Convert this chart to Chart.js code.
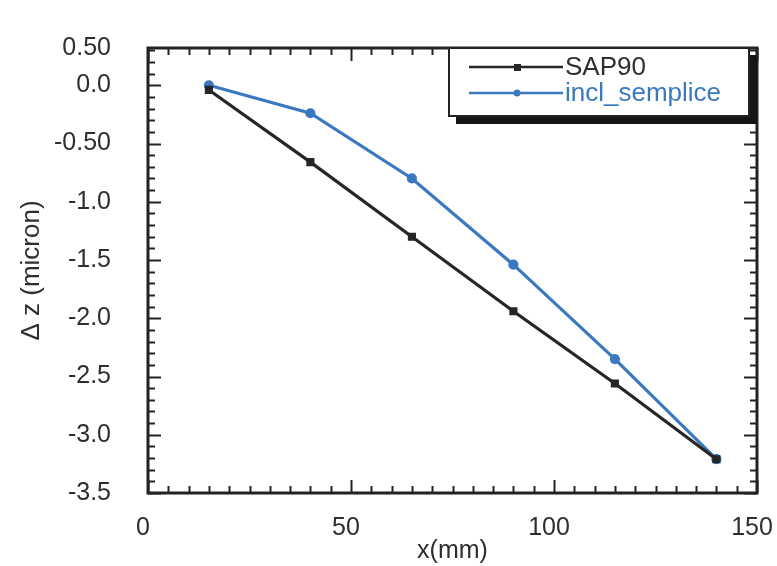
<!DOCTYPE html>
<html>
<head>
<meta charset="utf-8">
<script src="https://cdn.jsdelivr.net/npm/chart.js@4/dist/chart.umd.min.js"></script>
<style>
  html, body { margin: 0; padding: 0; background: #fff; }
  #wrap { width: 777px; height: 566px; }
</style>
</head>
<body>
<div id="wrap"><canvas id="chart" width="777" height="566"></canvas></div>
<script>
// data
const xPositions = [15, 40, 65, 90, 115, 140];
const sap90 = [-0.04, -0.66, -1.30, -1.94, -2.56, -3.21];
const inclSemplice = [0.0, -0.24, -0.80, -1.54, -2.35, -3.21];

// axis top sits a little above 0.3, the top tick carries the "0.50" label as in the original
const yMin = -3.5, yMax = 0.32;
const yTickValues = [yMax, 0, -0.5, -1, -1.5, -2, -2.5, -3, -3.5];
const yTickLabels = ['0.50', '0.0', '-0.50', '-1.0', '-1.5', '-2.0', '-2.5', '-3.0', '-3.5'];
const xTickValues = [0, 50, 100, 150];
const xTickLabels = ['0', '50', '100', '150'];

const FONT = 'Liberation Sans, Arial, Helvetica, sans-serif';
const TEXT = '#2e2e2e';
const BLACK = '#262626';
const BLUE = '#3a78c0';

// frame + inward ticks on all four sides, legend box
const framePlugin = {
    id: 'frame',
    afterDatasetsDraw(chart) {
        const { ctx, chartArea: a, scales } = chart;
        const xs = scales.x, ys = scales.y;
        ctx.save();
        ctx.strokeStyle = '#222';
        ctx.lineWidth = 2;
        ctx.beginPath();
        for (let v = 0; v <= 150; v += 5) {
            const px = Math.round(xs.getPixelForValue(v)) + 0.5;
            const len = v % 50 === 0 ? 13 : 7;
            ctx.moveTo(px, a.bottom); ctx.lineTo(px, a.bottom - len);
            ctx.moveTo(px, a.top); ctx.lineTo(px, a.top + len);
        }
        for (let i = 0; i <= 38; i++) {
            const v = -3.5 + i * 0.1;
            const py = Math.round(ys.getPixelForValue(v)) + 0.5;
            const len = i % 5 === 0 ? 13 : 7;
            ctx.moveTo(a.left, py); ctx.lineTo(a.left + len, py);
            ctx.moveTo(a.right, py); ctx.lineTo(a.right - len, py);
        }
        ctx.stroke();
        ctx.lineWidth = 3;
        ctx.strokeRect(a.left, a.top, a.right - a.left, a.bottom - a.top);

        // legend box with drop shadow
        const lx = 449, ly = a.top, lw = a.right - 8 - lx, lh = 68;
        ctx.fillStyle = '#151515';
        ctx.fillRect(lx + 7, ly + 7, lw + 1, lh + 1);
        ctx.fillStyle = '#fff';
        ctx.fillRect(lx, ly, lw, lh);
        ctx.lineWidth = 2;
        ctx.strokeStyle = '#222';
        ctx.strokeRect(lx, ly, lw, lh);

        const rows = [
            { y: ly + 19, ds: chart.data.datasets[0], textColor: TEXT },
            { y: ly + 45, ds: chart.data.datasets[1], textColor: BLUE }
        ];
        rows.forEach(r => {
            ctx.strokeStyle = r.ds.borderColor;
            ctx.lineWidth = 2.5;
            ctx.beginPath();
            ctx.moveTo(469, r.y); ctx.lineTo(563, r.y);
            ctx.stroke();
            ctx.fillStyle = r.ds.borderColor;
            if (r.ds.pointStyle === 'rect') {
                ctx.fillRect(514, r.y - 3, 7, 7);
            } else {
                ctx.beginPath(); ctx.arc(517, r.y, 3.5, 0, Math.PI * 2); ctx.fill();
            }
            ctx.fillStyle = r.textColor;
            ctx.font = '26px ' + FONT;
            ctx.textBaseline = 'middle';
            ctx.fillText(r.ds.label, 565, r.y + 1);
        });
        ctx.restore();
    }
};

new Chart(document.getElementById('chart'), {
    type: 'line',
    data: {
        datasets: [
            {
                label: 'SAP90',
                data: xPositions.map((x, i) => ({ x, y: sap90[i] })),
                borderColor: BLACK,
                backgroundColor: BLACK,
                borderWidth: 3.2,
                pointStyle: 'rect',
                pointRadius: 3.5,
                tension: 0
            },
            {
                label: 'incl_semplice',
                data: xPositions.map((x, i) => ({ x, y: inclSemplice[i] })),
                borderColor: BLUE,
                backgroundColor: BLUE,
                borderWidth: 3.2,
                pointStyle: 'circle',
                pointRadius: 3.5,
                tension: 0
            }
        ]
    },
    options: {
        responsive: false,
        animation: false,
        layout: { padding: { top: 48, right: 20, left: 0, bottom: 0 } },
        plugins: { legend: { display: false }, tooltip: { enabled: false } },
        scales: {
            x: {
                type: 'linear',
                min: 0, max: 150,
                grid: { display: false },
                border: { display: false },
                afterBuildTicks: s => { s.ticks = xTickValues.map(v => ({ value: v })); },
                afterFit: s => { s.height = 73; s.paddingLeft = 0; s.paddingRight = 0; },
                ticks: {
                    padding: 12,
                    labelOffset: -5,
                    color: TEXT,
                    font: { family: FONT, size: 25 },
                    maxRotation: 0,
                    callback: v => xTickLabels[xTickValues.indexOf(v)]
                },
                title: {
                    display: true,
                    text: 'x(mm)',
                    color: TEXT,
                    font: { family: FONT, size: 25 },
                    padding: { top: -2, bottom: 0 }
                }
            },
            y: {
                min: yMin, max: yMax,
                grid: { display: false },
                border: { display: false },
                afterBuildTicks: s => { s.ticks = yTickValues.map(v => ({ value: v })); },
                afterFit: s => { s.width = 148; s.paddingTop = 0; s.paddingBottom = 0; },
                ticks: {
                    padding: 29,
                    color: TEXT,
                    font: { family: FONT, size: 25 },
                    callback: v => yTickLabels[yTickValues.indexOf(v)]
                },
                title: {
                    display: true,
                    text: 'Δ z (micron)',
                    color: TEXT,
                    font: { family: FONT, size: 26 },
                    padding: { top: 16, bottom: 0 }
                }
            }
        }
    },
    plugins: [framePlugin]
});
</script>
</body>
</html>
